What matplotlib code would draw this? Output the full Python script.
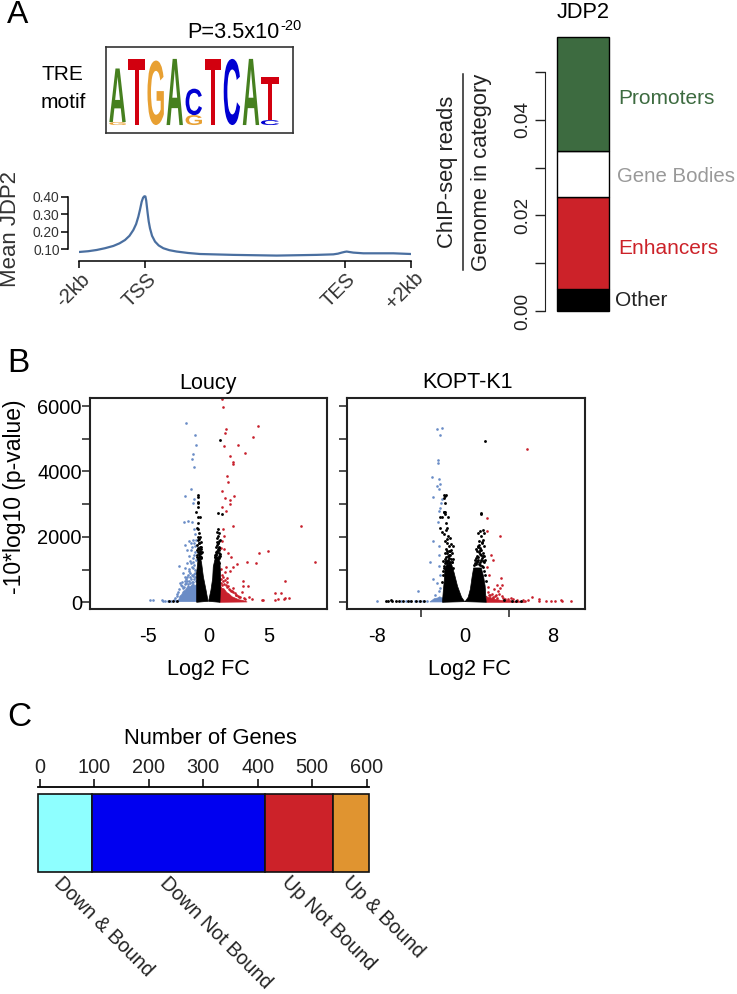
import matplotlib
matplotlib.use("Agg")
import matplotlib.pyplot as plt
from matplotlib.font_manager import FontProperties
from matplotlib.patches import PathPatch
from matplotlib.textpath import TextPath
from matplotlib.transforms import Affine2D

plt.rcParams['font.family'] = ['Liberation Sans', 'DejaVu Sans']

W, H = 737, 994

# motif logo: letters stacked bottom-up in each column, heights in bits
motif_letters = [['G', 'A'], ['T'], ['G'], ['A'], ['G', 'C'], ['T'], ['C'], ['A'], ['C', 'T']]
motif_heights = [[0.09, 1.62], [2.0], [1.95], [2.0], [0.30, 0.80], [2.0], [2.0], [2.0], [0.15, 1.30]]
motif_colors = {'A': '#46801f', 'T': '#d2000f', 'G': '#e8a032', 'C': '#0000d2'}

# mean JDP2 profile
profile_pos = [0.015, 0.14, 0.266, 0.39, 0.517, 0.61, 0.693, 0.76, 0.818, 0.86, 0.894, 0.92, 0.944, 0.965, 0.984,
               1.0, 1.012, 1.024, 1.034, 1.05, 1.069, 1.10, 1.145, 1.20, 1.270, 1.36,
               1.471, 1.64, 1.822, 2.324, 2.977, 3.579, 3.830, 3.90, 3.956, 4.0, 4.031, 4.08, 4.131, 4.282, 4.734, 5.0]
profile_val = [0.086, 0.090, 0.097, 0.107, 0.120, 0.135, 0.154, 0.178, 0.211, 0.245, 0.288, 0.330, 0.373, 0.396, 0.404,
               0.403, 0.380, 0.340, 0.307, 0.260, 0.221, 0.178, 0.145, 0.123, 0.107, 0.096,
               0.088, 0.080, 0.074, 0.069, 0.065, 0.069, 0.072, 0.076, 0.082, 0.086, 0.088, 0.085, 0.082, 0.078, 0.078, 0.074]
profile_ticks = [0, 1, 4, 5]
profile_labels = ['-2kb', 'TSS', 'TES', '+2kb']

# stacked bar of read enrichment
cat_names = ['Other', 'Enhancers', 'Gene Bodies', 'Promoters']
cat_tops = [0.0045, 0.0238, 0.0335, 0.0574]
cat_colors = ['#000000', '#cc2229', '#ffffff', '#3d6b40']

# Loucy volcano, hand read points
lou_blue_x = [-1.81, -1.10, -1.02, -1.26, -1.32, -1.18, -1.40, -1.92, -1.24, -1.18, -2.03, -1.70, -1.37, -1.15,
              -1.07, -1.57, -1.24, -1.43, -1.92, -1.15, -1.73, -1.40, -1.10, -2.45, -1.51, -1.73, -1.24, -1.92,
              -1.57, -1.24, -2.06, -1.79, -1.37, -2.34, -2.14, -1.60, -1.30, -1.85, -1.10, -4.81, -4.53, -3.85,
              -3.70, -3.55, -3.35, -3.10, -2.85, -2.70,
              -2.20, -1.90, -1.60, -1.45, -1.20, -1.05, -1.70, -1.15, -1.30, -1.55, -1.90, -2.40, -2.55, -2.75,
              -2.00, -1.15, -1.05, -1.35, -1.48, -1.62, -1.08, -1.22, -1.75, -1.42, -2.28, -1.12, -1.02, -1.34,
              -1.52, -1.66, -1.84, -2.12, -1.28, -1.06, -2.48, -2.62, -1.95, -1.38]
lou_blue_y = [5490, 5105, 4820, 4535, 4380, 4137, 3475, 3250, 3026, 3160, 2465, 2487, 2465, 2230,
              2087, 1884, 1904, 1822, 1762, 1802, 1599, 1599, 1548, 1110, 1273, 1191, 1222, 1038,
              967, 1038, 885, 783, 834, 580, 498, 1400, 1350, 700, 900, 70, 70, 60,
              50, 45, 50, 40, 60, 45,
              620, 560, 640, 700, 720, 660, 820, 880, 620, 760, 760, 420, 240, 120,
              480, 1150, 1300, 1080, 910, 1020, 1000, 1450, 640, 1200, 520, 1720, 1900, 1690,
              600, 560, 590, 450, 790, 780, 300, 180, 650, 610]
lou_black_x = [0.96, -0.88, -0.88, -0.82, -0.88, -0.82, -0.98, -0.82, -0.69, -0.82, -0.96, -0.82, -0.74, -0.88,
               -0.69, -0.63, -0.77, -0.60, -0.74, -0.55, -0.69, -0.80, -0.63, 0.82, 0.69, 0.91, 0.74, 0.96,
               0.82, 0.63, 0.91, 0.69, 0.88, 0.55, 0.77, 0.63, 0.91, 0.80, 1.15, -3.2, -2.9, -2.6,
               -0.92, -0.78, -0.66, -0.86, -0.72, -0.94, -0.60, -0.84, -0.70, -0.90, -0.76, -0.64, -0.96, -0.82,
               -0.58, -0.88, -0.74, -0.68, 0.58, 0.66, 0.72, 0.84, 0.94, 0.62, 0.78, 0.88, 0.70, 0.96, 0.52,
               0.64, 0.82, 0.92, 0.74, 0.60, 0.86, 0.68, 0.76, 0.90]
lou_black_y = [4950, 3280, 3230, 3057, 3026, 2904, 2770, 2618, 2598, 2435, 2262, 2232, 2109, 2007,
               1987, 1855, 1803, 1702, 1620, 1549, 1498, 1396, 1345, 2232, 2140, 2109, 1956, 1905,
               1804, 1702, 1651, 1549, 1498, 1396, 1345, 1243, 1192, 2720, 2711, 40, 35, 40,
               1440, 1480, 1420, 1530, 1560, 1610, 1500, 1660, 1700, 1760, 1810, 1640, 1380, 1320,
               1380, 1900, 1950, 1540, 1440, 1480, 1560, 1600, 1420, 1360, 1640, 1700, 1760, 1480, 1380,
               1540, 1820, 1880, 1300, 1460, 1420, 1840, 2040, 1340]
lou_red_x = [1.15, 1.21, 1.43, 1.35, 4.09, 3.65, 2.45, 1.29, 3.05, 1.76, 2.01, 2.06, 1.54, 1.62, 1.13, 2.09,
             1.37, 1.76, 1.76, 1.13, 1.48, 2.03, 1.21, 1.26, 1.10, 1.04, 1.32, 1.65, 4.20, 1.84, 3.16, 2.39,
             3.93, 2.06, 1.46, 1.79, 1.37, 1.51, 2.83, 3.27, 2.88, 2.06, 2.75, 3.38, 3.57, 7.62, 4.95, 8.80,
             6.30, 5.53, 5.99, 5.48, 5.72, 6.24, 6.35, 6.65, 4.40, 4.53,
             1.05, 1.18, 1.12, 1.30, 1.42, 1.58, 1.08, 1.24, 1.70, 1.88, 2.02, 2.24, 2.44, 2.62, 2.90, 3.05,
             1.16, 1.50, 1.34, 1.78, 1.02, 1.92, 2.16, 2.52, 1.64, 2.32]
lou_red_y = [6205, 5970, 5300, 5165, 5380, 5044, 4810, 4770, 4565, 4473, 4290, 4230, 3860, 3670, 3393, 3250,
             3190, 3140, 3006, 2925, 2802, 2344, 2242, 2028, 1885, 1651, 1640, 1498, 1518, 1396, 1243, 1162,
             1213, 1090, 1090, 968, 937, 734, 652, 499, 499, 428, 326, 173, 102, 2322, 1568, 1242,
             660, 294, 294, 80, 100, 110, 130, 130, 70, 70,
             600, 640, 820, 560, 520, 460, 1020, 760, 420, 340, 300, 230, 190, 150, 120, 90,
             530, 610, 690, 380, 720, 360, 270, 170, 490, 210]

# Loucy dense clouds, outline
lou_blue_edge_x = [-2.61, -2.42, -2.34, -2.20, -2.06, -1.90, -1.65, -1.50, -1.24, -1.10, -0.96, -0.88]
lou_blue_edge_y = [20, 90, 190, 230, 340, 370, 510, 470, 570, 510, 540, 20]
lou_red_edge_x = [0.95, 0.95, 1.12, 1.30, 1.52, 1.70, 1.95, 2.20, 2.50, 2.80, 3.20]
lou_red_edge_y = [0, 520, 430, 410, 300, 260, 170, 130, 80, 60, 10]
lou_left_edge_x = [-0.96, -0.96, -0.85, -0.72, -0.63, -0.55, -0.41, -0.19, -0.02]
lou_left_edge_y = [0, 900, 1300, 1450, 1340, 1191, 784, 376, 30]
lou_right_edge_x = [0.02, 0.22, 0.36, 0.41, 0.55, 0.74, 0.96, 1.02, 0.96]
lou_right_edge_y = [30, 376, 734, 1090, 1314, 1396, 1243, 683, 0]

# KOPT-K1 volcano, hand read points
kop_blue_x = [-2.59, -2.10, -2.32, -2.44, -2.50, -3.02, -2.38, -2.32, -2.59, -2.38, -2.87, -2.10, -2.20, -2.32,
              -2.35, -2.50, -2.90, -3.17, -2.38, -2.41, -2.35, -2.32, -2.90, -2.53, -2.35, -4.33, -2.74, -2.23,
              -8.05, -5.8, -5.4, -5.0, -4.6, -4.2, -3.8, -3.5]
kop_blue_y = [5289, 5319, 5126, 4341, 4249, 3842, 3780, 3607, 3556, 3475, 3230, 3159, 3026, 2894,
              2782, 2456, 1865, 1233, 1457, 1732, 1100, 846, 703, 591, 336, 346, 214, 438,
              51, 30, 35, 30, 40, 30, 35, 40]
kop_black_x = [1.83, -1.89, -1.77, -1.95, -1.83, -1.80, -1.89, -1.80, 1.46, -1.92, -1.83, -1.52, -2.29, -2.07,
               -1.74, -2.29, -1.65, -1.74, -2.13, -1.89, -1.52, -1.37, -1.68, -1.83, -1.59, -1.28, -1.13, -1.46,
               -1.28, -1.59, -1.16, -1.37, -1.46, -1.07, -1.74, -1.22, -1.98, 1.49, 1.62, 1.37, 1.16, 1.74,
               1.43, 1.68, 1.28, 1.52, 1.74, 1.22, 1.37, 1.07, 1.68, 1.43, 1.74, 1.01, 1.22, 1.62, 0.91, 1.37,
               1.80, -7.2, -7.05, -6.8, -6.7, -6.3, -6.0, -5.7, -5.2, -4.9, -4.5, -4.1, -3.7, 3.6, 4.3, 4.7, 5.1,
               -2.02, -1.90, -1.76, -1.62, -1.50, -1.36, -1.20, -1.08, -1.96, -1.84, -1.70, -1.56, -1.42, -1.30,
               -2.06, -1.94, -1.78, -1.64, -1.48, -1.34, -1.86, -1.72, -1.58, -1.44,
               0.86, 1.00, 1.14, 1.28, 1.42, 1.56, 1.70, 1.84, 0.94, 1.08, 1.20, 1.34, 1.48, 1.62, 1.76, 1.90,
               1.04, 1.18, 1.30, 1.46, 1.58, 1.72, 1.12, 1.26, 1.40, 1.54]
kop_black_y = [4942, 3271, 3281, 3189, 3240, 3037, 2751, 2772, 2710, 2751, 2700, 2598, 2598, 2598,
               2425, 2272, 2272, 2221, 2140, 2089, 2018, 1967, 1946, 1865, 1814, 1783, 1712, 1712,
               1610, 1559, 1508, 1457, 1355, 1335, 1253, 1233, 1253, 2721, 2221, 2191, 2120, 2120,
               2018, 1916, 1885, 1814, 1712, 1681, 1610, 1559, 1508, 1457, 1406, 1355, 1304, 1253, 1202, 1151,
               1304, 40, 40, 60, 40, 50, 35, 30, 30, 35, 30, 35, 40, 60, 50, 30, 50,
               820, 1120, 1240, 1210, 1300, 1240, 1220, 1040, 960, 1190, 1380, 1420, 1190, 1320,
               620, 1060, 1320, 1500, 1440, 1560, 1520, 1640, 1260, 1580,
               1140, 1180, 1260, 1170, 1220, 1120, 1090, 840, 1300, 1420, 1380, 1480, 1300, 1410, 960, 640,
               1640, 1720, 1760, 1600, 1840, 1220, 1240, 1540, 1660, 1360]
kop_red_x = [5.64, 2.04, 2.04, 3.20, 2.38, 2.53, 1.98, 2.23, 3.26, 2.07, 2.90, 3.35, 2.68, 3.20, 3.05, 2.84,
             2.29, 2.60, 3.35, 3.65, 4.40, 5.33, 5.50, 6.10, 6.80, 6.80, 7.41, 7.84, 8.23, 8.75, 8.90, 9.70,
             2.10, 2.45, 2.72, 3.10, 3.50, 3.95, 4.20, 4.80, 2.20, 2.55, 2.95, 5.80]
kop_red_y = [4687, 2578, 2170, 2018, 1457, 1304, 1070, 846, 744, 459, 520, 520, 418, 438, 357, 234,
             234, 150, 180, 110, 110, 80, 50, 153, 112, 30, 51, 51, 51, 82, 51, 51,
             300, 260, 180, 240, 130, 90, 130, 60, 210, 120, 140, 70]

# KOPT-K1 dense clouds, outline
kop_blue_edge_x = [-3.2, -2.8, -2.5, -2.29, -2.10, -1.92, -1.92]
kop_blue_edge_y = [10, 110, 130, 170, 130, 150, 10]
kop_red_edge_x = [1.95, 1.95, 2.15, 2.30, 2.60, 3.00, 3.40, 4.00, 4.50, 5.00, 5.50]
kop_red_edge_y = [0, 190, 140, 160, 90, 80, 50, 60, 30, 35, 0]
kop_left_edge_x = [-2.05, -1.98, -1.89, -1.83, -1.68, -1.22, -0.98, -0.67, -0.30, -0.02]
kop_left_edge_y = [0, 320, 642, 999, 1151, 1172, 897, 489, 153, 20]
kop_right_edge_x = [0.02, 0.30, 0.50, 0.67, 0.80, 1.50, 1.70, 1.85, 1.95]
kop_right_edge_y = [20, 153, 400, 800, 1050, 1050, 800, 500, 0]

# gene counts bar
gene_names = ['Down & Bound', 'Down Not Bound', 'Up Not Bound', 'Up & Bound']
gene_counts = [99.5, 316.5, 126, 66]
gene_colors = ['#8effff', '#0000f0', '#cc2229', '#e09430']
gene_ticks = [0, 100, 200, 300, 400, 500, 600]

BLUE = '#6a8cc6'
RED = '#c8202c'
DARK = '#222222'

fig = plt.figure(figsize=(W / 100, H / 100), dpi=100)


def ax_px(left, top, right, bottom):
    return fig.add_axes([left / W, 1 - bottom / H, (right - left) / W, (bottom - top) / H])


def txt(x, y, s, size=15.7, ha='center', va='center', **kw):
    return fig.text(x / W, 1 - y / H, s, fontsize=size, ha=ha, va=va, **kw)


# panel letters
txt(7, 15, 'A', size=23, ha='left', color='black')
txt(7, 363, 'B', size=24, ha='left', color='black')
txt(7, 717, 'C', size=24, ha='left', color='black')

# motif logo
txt(41, 75, 'TRE', size=15, ha='left')
txt(41, 102, 'motif', size=15, ha='left')
txt(187, 32, 'P=3.5x10', size=15.7, ha='left')
txt(280, 26, '-20', size=10.5, ha='left')

ax = ax_px(106.3, 47, 292.7, 133.3)
ax.set_xlim(-0.59, 9.19)
ax.set_ylim(-0.25, 2.36)
ax.set_xticks([])
ax.set_yticks([])
for s in ax.spines.values():
    s.set_color('#333333')
    s.set_linewidth(1.2)
fp = FontProperties(family='Liberation Sans', weight='bold')
for col, (letters, heights) in enumerate(zip(motif_letters, motif_heights)):
    bottom = 0
    width = 0.95 if col == 8 else 0.86
    for letter, height in zip(letters, heights):
        path = TextPath((0, 0), letter, size=1, prop=fp)
        box = path.get_extents()
        tr = (Affine2D().translate(-box.x0, -box.y0)
              .scale(width / box.width, height / box.height)
              .translate(col - width / 2, bottom))
        ax.add_patch(PathPatch(path, transform=tr + ax.transData, fc=motif_colors[letter], lw=0))
        bottom += height

# profile
ax = ax_px(79, 190, 411, 261)
ax.plot(profile_pos, profile_val, color='#4a6fa0', lw=1.6)
ax.set_xlim(0, 5)
ax.set_ylim(0.034, 0.44)
ax.patch.set_alpha(0)
for s in ['top', 'right']:
    ax.spines[s].set_visible(False)
ax.spines['left'].set_position(('outward', 8))
ax.spines['left'].set_bounds(0.10, 0.40)
ax.spines['bottom'].set_linewidth(1.1)
ax.spines['left'].set_linewidth(1.1)
ax.set_yticks([0.10, 0.20, 0.30, 0.40])
ax.set_yticklabels(['0.10', '0.20', '0.30', '0.40'], fontsize=9.9, color='#333333')
ax.tick_params(axis='y', length=5, width=1.1, pad=1)
ax.set_xticks(profile_ticks)
ax.set_xticklabels([])
ax.tick_params(axis='x', length=5, width=1.1)
for pos, lab in zip(profile_ticks, profile_labels):
    ax.annotate(lab, xy=(pos, 0), xycoords=('data', 'axes fraction'), xytext=(-4.5, -21),
                textcoords='offset points', rotation=45, ha='center', va='center',
                fontsize=14.5, color='#333333')
txt(11, 229, 'Mean JDP2', size=15.9, rotation=90, color='#333333')

# stacked bar
ax = ax_px(557, 36.7, 609, 311)
ax.set_xlim(0, 1)
ax.set_ylim(0, cat_tops[-1])
prev = 0
for top, col in zip(cat_tops, cat_colors):
    ax.bar(0.5, top - prev, bottom=prev, width=1, color=col, edgecolor='black', lw=1, clip_on=False)
    prev = top
for s in ['top', 'right', 'bottom']:
    ax.spines[s].set_visible(False)
ax.spines['left'].set_position(('outward', 8.5))
ax.spines['left'].set_bounds(0, 0.05)
ax.spines['left'].set_color(DARK)
ax.set_xticks([])
ax.set_yticks([0, 0.02, 0.04])
ax.set_yticklabels(['0.00', '0.02', '0.04'], rotation=90, va='center', fontsize=13.7, color=DARK)
ax.set_yticks([0.01, 0.03, 0.05], minor=True)
ax.tick_params(axis='y', which='both', length=7.2, width=1, color=DARK, pad=2.5)
txt(583, 13, 'JDP2')
txt(618, 99, cat_names[3], size=15, ha='left', color=cat_colors[3])
txt(617, 177, cat_names[2], size=14.7, ha='left', color='#999999')
txt(618, 249, cat_names[1], size=15, ha='left', color=cat_colors[1])
txt(615, 301, cat_names[0], size=15, ha='left', color=DARK)
txt(447, 172, 'ChIP-seq reads', size=15.8, rotation=90, color=DARK)
txt(482, 172, 'Genome in category', size=15.8, rotation=90, color=DARK)
fig.add_artist(plt.Line2D([462.7 / W, 462.7 / W], [1 - 74 / H, 1 - 270 / H], color=DARK, lw=1.1))


# volcano panels
def volcano(ax, blue, red, black, blue_edge, red_edge, left_edge, right_edge):
    ax.fill(*blue_edge, color=BLUE, lw=0.5, zorder=2)
    ax.fill(*red_edge, color=RED, lw=0.5, zorder=2)
    ax.scatter(*blue, s=3.6, color=BLUE, lw=0, zorder=2)
    ax.scatter(*red, s=3.6, color=RED, lw=0, zorder=2)
    ax.fill(*left_edge, color='black', lw=0.5, zorder=3)
    ax.fill(*right_edge, color='black', lw=0.5, zorder=3)
    ax.scatter(*black, s=4.2, color='black', lw=0, zorder=3)
    ax.set_ylim(-205, 6245)
    for s in ax.spines.values():
        s.set_linewidth(1.5)
        s.set_color(DARK)
    ax.tick_params(axis='y', which='both', length=5.8, width=1.1, color=DARK, pad=0, labelsize=14.4)


ax = ax_px(90, 398, 327, 609)
volcano(ax, (lou_blue_x, lou_blue_y), (lou_red_x, lou_red_y), (lou_black_x, lou_black_y),
        (lou_blue_edge_x, lou_blue_edge_y), (lou_red_edge_x, lou_red_edge_y),
        (lou_left_edge_x, lou_left_edge_y), (lou_right_edge_x, lou_right_edge_y))
ax.set_xlim(-9.75, 9.78)
ax.set_yticks([0, 2000, 4000, 6000])
ax.set_yticks([1000, 3000, 5000], minor=True)
ax.set_xticks([-5, 0, 5])
ax.set_xticklabels(['-5', '0', '5'])
ax.tick_params(axis='x', length=0, pad=13, labelsize=14.4)
txt(208, 384, 'Loucy', size=15.5)
txt(208, 669, 'Log2 FC', size=15.6)
txt(15, 497, '-10*log10 (p-value)', size=16.5, rotation=90)

ax = ax_px(347.3, 398, 585, 609)
volcano(ax, (kop_blue_x, kop_blue_y), (kop_red_x, kop_red_y), (kop_black_x, kop_black_y),
        (kop_blue_edge_x, kop_blue_edge_y), (kop_red_edge_x, kop_red_edge_y),
        (kop_left_edge_x, kop_left_edge_y), (kop_right_edge_x, kop_right_edge_y))
ax.set_xlim(-10.75, 10.98)
ax.set_yticks([0, 1000, 2000, 3000, 4000, 5000, 6000])
ax.set_yticklabels([])
ax.set_xticks([-8, 0, 8])
ax.set_xticklabels(['-8', '0', '8'])
ax.set_xticks([-4, 4], minor=True)
ax.tick_params(axis='x', which='major', length=0, pad=13, labelsize=14.4)
ax.tick_params(axis='x', which='minor', length=5.8, width=1.1, color=DARK)
txt(467, 383, 'KOPT-K1', size=15.5)
txt(469, 669, 'Log2 FC', size=15.6)

# gene counts
ax = ax_px(38, 794.3, 369.3, 871.7)
ax.set_xlim(-3, 605)
ax.set_ylim(0, 1)
left = -3
for count, col in zip(gene_counts, gene_colors):
    ax.barh(0.5, count, left=left, height=1, color=col, edgecolor='#111111', lw=1.2, clip_on=False)
    left += count
ax.set_yticks([])
for s in ['left', 'right', 'bottom']:
    ax.spines[s].set_visible(False)
ax.spines['top'].set_position(('outward', 5.4))
ax.spines['top'].set_linewidth(1.3)
ax.xaxis.tick_top()
ax.set_xticks(gene_ticks)
ax.set_xticklabels([str(t) for t in gene_ticks], fontsize=14.3, color=DARK)
ax.tick_params(axis='x', length=5.5, width=1.1, pad=1.5)
txt(210.7, 738, 'Number of Genes', size=15.8)
for x0, name in zip([64, 170, 291, 352], gene_names):
    txt(x0, 873, name, size=14.2, ha='left', va='top', rotation=-45, rotation_mode='anchor', color=DARK)

fig.savefig('out.png', dpi=100)
